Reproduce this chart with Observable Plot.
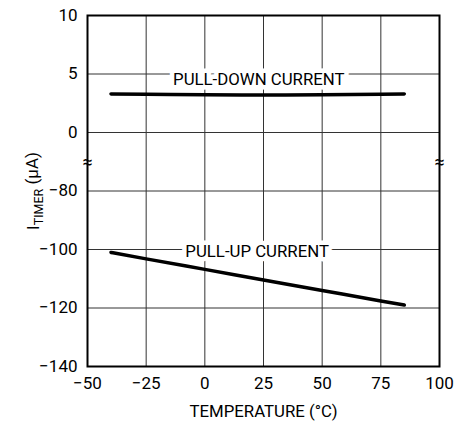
<!DOCTYPE html>
<html>
<head>
<meta charset="utf-8">
<script src="https://cdn.jsdelivr.net/npm/d3@7"></script>
<script src="https://cdn.jsdelivr.net/npm/@observablehq/plot@0.6"></script>
<style>
  html, body { margin: 0; padding: 0; background: #fff; }
  #chart { width: 469px; height: 423px; }
</style>
</head>
<body>
<div id="chart"></div>
<script>
// ---- data ----
const temps = [-40, -25, 0, 25, 50, 75, 85];
const pullDown = [3.3, 3.27, 3.22, 3.2, 3.22, 3.27, 3.3];
const pullUp = [-101, -103.2, -106.8, -110.4, -114, -117.6, -119];

const xTicks = [-50, -25, 0, 25, 50, 75, 100];
const yTickValues = [-140, -120, -100, -80, 0, 5, 10];
const yTickLabels = ["\u2212140", "\u2212120", "\u2212100", "\u221280", "0", "5", "10"];

const seriesLabels = ["PULL-DOWN CURRENT", "PULL-UP CURRENT"];
const labelTemps = [23, 22.3];
const labelValues = [4.53, -100.75];

const xTitle = "TEMPERATURE (\u00B0C)";
const yTitleMain = "I";
const yTitleSub = "TIMER";
const yTitleUnit = " (\u00B5A)";

// broken axis: map values to evenly spaced tick index
const idx = d3.scaleLinear().domain(yTickValues).range(yTickValues.map((_, i) => i));

const pdData = temps.map((t, i) => ({t, v: pullDown[i]}));
const puData = temps.map((t, i) => ({t, v: pullUp[i]}));
const labelData = seriesLabels.map((s, i) => ({s, t: labelTemps[i], v: labelValues[i]}));
const breakData = [{t: -50, v: 3.5}, {t: 100, v: 3.5}];

const FONT = "Roboto, 'Liberation Sans', sans-serif";

const chart = Plot.plot({
  width: 469,
  height: 423,
  marginLeft: 87,
  marginRight: 30,
  marginTop: 15,
  marginBottom: 57,
  style: {fontFamily: FONT, fontSize: "17px", background: "#fff", color: "#000"},
  x: {domain: [-50, 100]},
  y: {domain: [0, 6]},
  marks: [
    Plot.gridX(xTicks, {stroke: "#333", strokeOpacity: 1, strokeWidth: 1}),
    Plot.gridY(yTickValues.map((_, i) => i), {stroke: "#333", strokeOpacity: 1, strokeWidth: 1}),
    Plot.frame({stroke: "#000", strokeWidth: 2}),
    Plot.axisX(xTicks, {tickSize: 0, tickPadding: 10, label: null, fill: "#000", fontSize: 17}),
    Plot.axisY(yTickValues.map((_, i) => i), {tickSize: 0, tickPadding: 10, label: null, tickFormat: i => yTickLabels[i], fill: "#000", fontSize: 17}),
    Plot.line(pdData, {x: "t", y: d => idx(d.v), stroke: "#000", strokeWidth: 3.5, curve: "monotone-x"}),
    Plot.line(puData, {x: "t", y: d => idx(d.v), stroke: "#000", strokeWidth: 3.5, curve: "monotone-x"}),
    Plot.text(labelData, {x: "t", y: d => idx(d.v), text: "s", fill: "#000", stroke: "#fff", strokeWidth: 9, paintOrder: "stroke", textAnchor: "middle", lineAnchor: "middle", fontSize: 16.8}),
    Plot.text(breakData, {x: "t", y: "v", text: () => "\u2248", fill: "#000", fontSize: 18, textAnchor: "middle", lineAnchor: "middle"}),
    Plot.text([xTitle], {frameAnchor: "bottom", dy: 45.5, text: d => d, fill: "#000", fontSize: 16.8, textAnchor: "middle", lineAnchor: "middle"}),
    Plot.text(["__YTITLE__"], {frameAnchor: "left", dx: -54, rotate: -90, text: d => d, fill: "#000", fontSize: 17, textAnchor: "middle", lineAnchor: "middle"})
  ]
});

// subscript in y title
chart.querySelectorAll("text").forEach(t => {
  if (t.textContent === "__YTITLE__") {
    t.textContent = "";
    const ns = "http://www.w3.org/2000/svg";
    const a = document.createElementNS(ns, "tspan"); a.textContent = yTitleMain;
    const b = document.createElementNS(ns, "tspan"); b.textContent = yTitleSub;
    b.setAttribute("font-size", "12.5"); b.setAttribute("dy", "0.3em");
    const c = document.createElementNS(ns, "tspan"); c.textContent = yTitleUnit;
    c.setAttribute("dy", "-0.3em");
    t.append(a, b, c);
  }
});

document.getElementById("chart").appendChild(chart);
</script>
</body>
</html>
